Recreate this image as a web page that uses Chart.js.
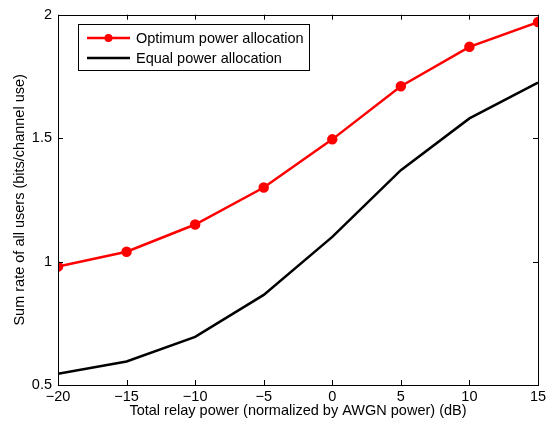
<!DOCTYPE html>
<html>
<head>
<meta charset="utf-8">
<script src="https://cdn.jsdelivr.net/npm/chart.js@4"></script>
<style>
  html, body { margin: 0; padding: 0; background: #fff; }
  #wrap { width: 555px; height: 426px; }
</style>
</head>
<body>
<div id="wrap"><canvas id="chart" width="555" height="426"></canvas></div>
<script>
const relayPower = [-20, -15, -10, -5, 0, 5, 10, 15];
const optimumRate = [0.98, 1.04, 1.15, 1.30, 1.495, 1.71, 1.87, 1.97];
const equalRate = [0.545, 0.595, 0.695, 0.865, 1.10, 1.37, 1.58, 1.725];
const xTicks = [-20, -15, -10, -5, 0, 5, 10, 15];
const yTicks = [0.5, 1, 1.5, 2];

const FONT = 'Liberation Sans, Arial, Helvetica, sans-serif';
const FSIZE = 14.5;

const toPoints = (xs, ys) => xs.map((x, i) => ({ x, y: ys[i] }));

// box around plot + inward ticks on all four sides (matlab style)
const boxPlugin = {
    id: 'box',
    afterDatasetsDraw(chart) {
        const { ctx, chartArea: a, scales } = chart;
        ctx.save();
        ctx.strokeStyle = '#000';
        ctx.lineWidth = 1;
        const len = 5;
        ctx.beginPath();
        xTicks.forEach(v => {
            const px = Math.round(scales.x.getPixelForValue(v)) + 0.5;
            ctx.moveTo(px, a.bottom); ctx.lineTo(px, a.bottom - len);
            ctx.moveTo(px, a.top); ctx.lineTo(px, a.top + len);
        });
        yTicks.forEach(v => {
            const py = Math.round(scales.y.getPixelForValue(v)) + 0.5;
            ctx.moveTo(a.left, py); ctx.lineTo(a.left + len, py);
            ctx.moveTo(a.right, py); ctx.lineTo(a.right - len, py);
        });
        ctx.stroke();
        ctx.strokeRect(Math.round(a.left) + 0.5, Math.round(a.top) + 0.5,
            Math.round(a.right - a.left), Math.round(a.bottom - a.top));
        ctx.restore();
    }
};

// legend drawn inside the plot area, top left
const legendPlugin = {
    id: 'innerLegend',
    afterDraw(chart) {
        const { ctx } = chart;
        const x0 = 78.5, y0 = 24.5, w = 231, h = 46;
        ctx.save();
        ctx.fillStyle = '#fff';
        ctx.fillRect(x0, y0, w, h);
        ctx.strokeStyle = '#000';
        ctx.lineWidth = 1;
        ctx.strokeRect(x0, y0, w, h);
        ctx.font = FSIZE + 'px ' + FONT;
        ctx.textBaseline = 'middle';
        chart.data.datasets.forEach((ds, i) => {
            const y = 38 + i * 20;
            ctx.strokeStyle = ds.borderColor;
            ctx.lineWidth = ds.borderWidth;
            ctx.beginPath();
            ctx.moveTo(87, y); ctx.lineTo(130, y);
            ctx.stroke();
            if (ds.pointRadius > 0) {
                ctx.fillStyle = ds.pointBackgroundColor;
                ctx.beginPath();
                ctx.arc(108.5, y, ds.pointRadius, 0, Math.PI * 2);
                ctx.fill();
            }
            ctx.fillStyle = '#000';
            ctx.fillText(ds.label, 136, y + 1);
        });
        ctx.restore();
    }
};

new Chart(document.getElementById('chart'), {
    type: 'line',
    data: {
        datasets: [{
            label: 'Optimum power allocation',
            data: toPoints(relayPower, optimumRate),
            borderColor: '#ff0000',
            backgroundColor: '#ff0000',
            pointBackgroundColor: '#ff0000',
            pointBorderColor: '#ff0000',
            borderWidth: 2.5,
            pointRadius: 4,
            tension: 0
        }, {
            label: 'Equal power allocation',
            data: toPoints(relayPower, equalRate),
            borderColor: '#000000',
            backgroundColor: '#000000',
            borderWidth: 2.5,
            pointRadius: 0,
            tension: 0
        }]
    },
    options: {
        responsive: false,
        animation: false,
        layout: { padding: { top: 11, right: 17, left: 0, bottom: 0 } },
        plugins: { legend: { display: false }, tooltip: { enabled: false } },
        scales: {
            x: {
                type: 'linear',
                min: -20, max: 15,
                afterBuildTicks: s => { s.ticks = xTicks.map(v => ({ value: v })); },
                afterFit: s => { s.height = 41; },
                grid: { display: false, drawTicks: false },
                border: { display: false },
                ticks: {
                    color: '#000', padding: 3,
                    font: { family: FONT, size: FSIZE },
                    maxRotation: 0,
                    callback: v => String(v).replace('-', '\u2212')
                },
                title: {
                    display: true,
                    text: 'Total relay power (normalized by AWGN power) (dB)',
                    color: '#000', padding: { top: 0, bottom: 6 },
                    font: { family: FONT, size: FSIZE }
                }
            },
            y: {
                min: 0.5, max: 2,
                afterBuildTicks: s => { s.ticks = yTicks.map(v => ({ value: v })); },
                afterFit: s => { s.width = 58; },
                grid: { display: false, drawTicks: false },
                border: { display: false },
                ticks: {
                    color: '#000', padding: 6,
                    font: { family: FONT, size: FSIZE },
                    callback: v => String(v)
                },
                title: {
                    display: true,
                    text: 'Sum rate of all users (bits/channel use)',
                    color: '#000', padding: { top: 11, bottom: 0 },
                    font: { family: FONT, size: FSIZE }
                }
            }
        }
    },
    plugins: [boxPlugin, legendPlugin]
});
</script>
</body>
</html>
